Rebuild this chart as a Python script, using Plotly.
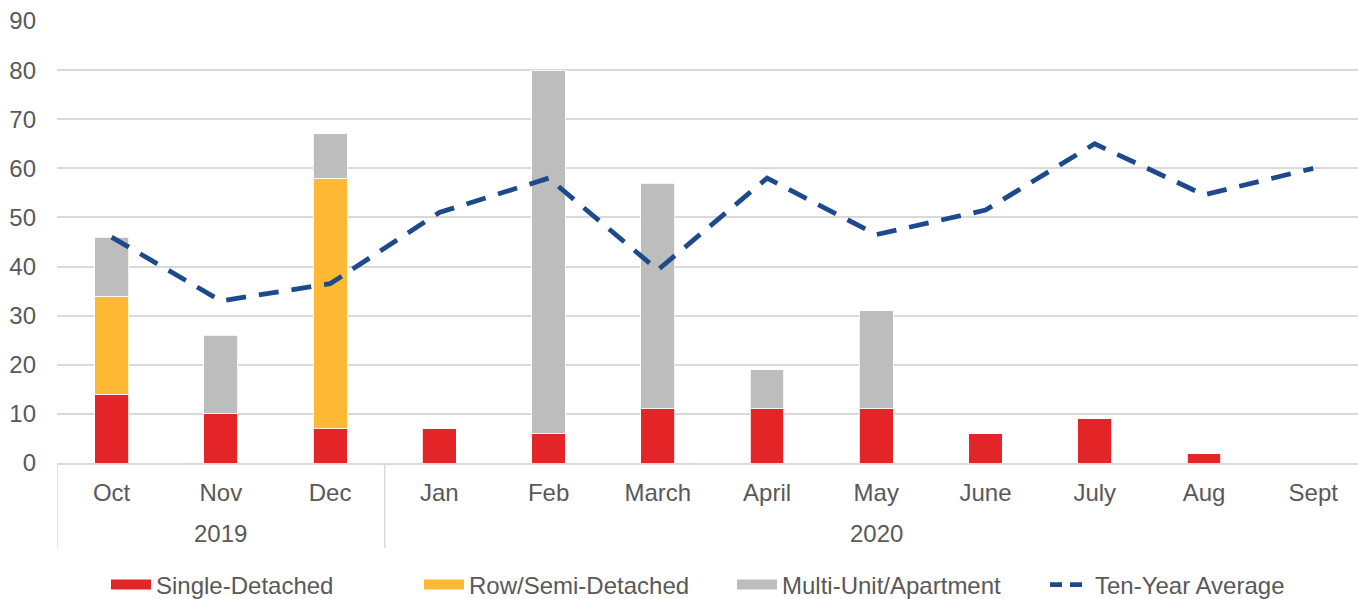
import plotly.graph_objects as go

months = ["Oct", "Nov", "Dec", "Jan", "Feb", "March", "April", "May", "June", "July", "Aug", "Sept"]
year_labels = ["2019", "2020"]
year_spans = [(0, 2), (3, 11)]  # first and last month index of each year group
single_detached = [14, 10, 7, 7, 6, 11, 11, 11, 6, 9, 2, 0]
row_semi = [20, 0, 51, 0, 0, 0, 0, 0, 0, 0, 0, 0]
multi_unit = [12, 16, 9, 0, 74, 46, 8, 20, 0, 0, 0, 0]
ten_year_avg = [46, 33, 36.5, 51, 58, 39.3, 58, 46.5, 51.5, 65, 54.6, 60]

font_family = "Liberation Sans, Arial, sans-serif"
text_color = "#595959"
grid_color = "#D9D9D9"
fs = 24

series = [
    ("Single-Detached", single_detached, "#E32527"),
    ("Row/Semi-Detached", row_semi, "#FDB933"),
    ("Multi-Unit/Apartment", multi_unit, "#BDBDBD"),
]

fig = go.Figure()
for name, vals, color in series:
    fig.add_trace(go.Bar(x=months, y=vals, name=name, legendgroup=name, showlegend=False,
                         marker=dict(color=color, line=dict(color="white", width=0.8))))
fig.add_trace(go.Scatter(x=months, y=ten_year_avg, name="Ten-Year Average", mode="lines",
                         legendgroup="avg", showlegend=False,
                         line=dict(color="#1D4A8C", width=4.8, dash="20px,13px")))
# legend entries with wide rectangular swatches like the original
for name, vals, color in series:
    fig.add_trace(go.Scatter(x=[None], y=[None], mode="lines", name=name, legendgroup=name,
                             line=dict(color=color, width=14)))
fig.add_trace(go.Scatter(x=[None], y=[None], mode="lines", name="Ten-Year Average",
                         legendgroup="avg", line=dict(color="#1D4A8C", width=4.8, dash="12px,8px")))

# year group labels and dividers
for label, (a, b) in zip(year_labels, year_spans):
    fig.add_annotation(x=(a + b) / 2, xref="x", y=-0.1595, yref="paper", text=label,
                       showarrow=False, yanchor="middle",
                       font=dict(size=fs, color=text_color, family=font_family))
divider_positions = [year_spans[0][0] - 0.5] + [b + 0.5 for (a, b) in year_spans]
for d in divider_positions:
    fig.add_shape(type="line", xref="x", yref="paper", x0=d, x1=d, y0=0, y1=-0.192,
                  line=dict(color=grid_color, width=1.5))

fig.update_layout(
    width=1358, height=599,
    barmode="stack", bargap=0.69,
    plot_bgcolor="white", paper_bgcolor="white",
    margin=dict(l=57, r=0, t=21, b=136),
    font=dict(family=font_family, size=fs, color=text_color),
    showlegend=True,
    legend=dict(orientation="h", x=0.536, xanchor="center", yref="container", y=0.0234,
                yanchor="middle", font=dict(size=fs, color=text_color), itemwidth=40,
                traceorder="normal", entrywidth=258),
    xaxis=dict(type="category", range=[-0.5, 11.41], showgrid=False, automargin=False,
               showline=True, linecolor=grid_color, linewidth=1.5,
               tickfont=dict(size=fs, color=text_color), ticks="", ticklabelstandoff=7),
    yaxis=dict(range=[0, 90], dtick=10, showgrid=True, gridcolor=grid_color, gridwidth=1.5,
               zeroline=False, showline=False, tickfont=dict(size=fs, color=text_color),
               ticks="", ticklabelstandoff=20, automargin=False),
)

fig.write_html("out.html", config={"displayModeBar": False},
               post_script="document.body.style.margin='0';document.body.style.overflow='hidden';")
